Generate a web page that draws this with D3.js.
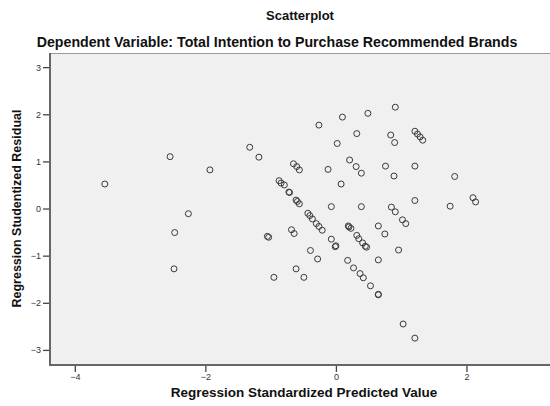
<!DOCTYPE html>
<html>
<head>
<meta charset="utf-8">
<script src="https://cdn.jsdelivr.net/npm/d3@7"></script>
<style>
  body { margin: 0; background: #fff; }
  text { font-family: Arial, "Liberation Sans", sans-serif; }
</style>
</head>
<body>
<div id="chart"></div>
<script>
const title = 'Scatterplot';
const subtitle = 'Dependent Variable: Total Intention to Purchase Recommended Brands';
const xLabel = 'Regression Standardized Predicted Value';
const yLabel = 'Regression Studentized Residual';

const xTicks = [-4, -2, 0, 2];
const yTicks = [-3, -2, -1, 0, 1, 2, 3];

// standardized predicted value
const predicted = [
  -3.54, -2.54, -1.93, -2.26, -2.47, -2.48, -1.32, -1.18, -0.26, 0.10,
  0.49, 0.32, 0.02, -0.65, -0.60, -0.56, -0.12, 0.21, 0.31, 0.39,
  0.08, -0.87, -0.84, -0.79, -0.72, -0.71, -0.61, -0.59, -0.56, -0.07,
  0.39, 0.91, 0.84, 0.90, 1.21, 1.25, 1.29, 1.33, 0.76, 0.89,
  1.21, 1.82, 1.21, 0.85, 0.91, 1.75, 2.10, 2.14, -0.43, -0.40,
  -0.36, -0.30, -0.26, -0.21, -0.68, -0.64, -1.05, -1.03, -0.07, 0.00,
  -0.01, -0.39, -0.28, 0.19, 0.20, 0.23, 0.32, 0.35, 0.41, 0.45,
  0.47, 0.18, 0.27, 0.37, 0.42, 0.53, 0.65, 0.65, -0.61, -0.49,
  -0.95, 1.02, 1.07, 0.65, 0.75, 0.96, 0.65, 1.03, 1.21
];

// studentized residual
const residual = [
  0.52, 1.10, 0.82, -0.11, -0.51, -1.28, 1.30, 1.09, 1.77, 1.94,
  2.02, 1.59, 1.38, 0.95, 0.89, 0.82, 0.83, 1.03, 0.89, 0.75,
  0.52, 0.59, 0.54, 0.50, 0.35, 0.34, 0.18, 0.15, 0.10, 0.04,
  0.04, 2.15, 1.56, 1.40, 1.64, 1.58, 1.52, 1.45, 0.90, 0.69,
  0.90, 0.68, 0.17, 0.03, -0.07, 0.05, 0.23, 0.14, -0.10, -0.15,
  -0.22, -0.32, -0.38, -0.46, -0.45, -0.53, -0.59, -0.61, -0.65, -0.79,
  -0.81, -0.89, -1.07, -0.37, -0.39, -0.42, -0.57, -0.64, -0.73, -0.80,
  -0.82, -1.10, -1.26, -1.38, -1.47, -1.64, -1.82, -1.83, -1.28, -1.46,
  -1.46, -0.24, -0.32, -0.37, -0.54, -0.88, -1.09, -2.45, -2.75
];

const width = 550;
const height = 406;
const margin = { top: 53, right: 0, bottom: 41, left: 50 };

const svg = d3.select('#chart')
  .append('svg')
  .attr('width', width)
  .attr('height', height);

const x = d3.scaleLinear()
  .domain([-4.38, 3.28])
  .range([margin.left, width - margin.right]);

const y = d3.scaleLinear()
  .domain([-3.32, 3.30])
  .range([height - margin.bottom, margin.top]);

// plot background
svg.append('rect')
  .attr('x', margin.left)
  .attr('y', margin.top)
  .attr('width', width - margin.left - margin.right)
  .attr('height', height - margin.top - margin.bottom)
  .attr('fill', '#f0f0f0');

svg.append('line')
  .attr('x1', margin.left).attr('x2', width)
  .attr('y1', margin.top + 0.5).attr('y2', margin.top + 0.5)
  .attr('stroke', '#9a9a9a');

// titles
svg.append('text')
  .attr('x', 300).attr('y', 20)
  .attr('text-anchor', 'middle')
  .attr('font-size', 13).attr('font-weight', 'bold')
  .attr('fill', '#111')
  .text(title);

svg.append('text')
  .attr('x', 277).attr('y', 47)
  .attr('text-anchor', 'middle')
  .attr('font-size', 14.2).attr('font-weight', 'bold')
  .attr('fill', '#111')
  .text(subtitle);

// axes
const xAxis = svg.append('g')
  .attr('transform', `translate(0,${height - margin.bottom})`)
  .call(d3.axisBottom(x).tickValues(xTicks).tickSize(7).tickPadding(2).tickFormat(d3.format('d')));

const yAxis = svg.append('g')
  .attr('transform', `translate(${margin.left},0)`)
  .call(d3.axisLeft(y).tickValues(yTicks).tickSize(7).tickPadding(2).tickFormat(d3.format('d')));

for (const g of [xAxis, yAxis]) {
  g.select('.domain').remove();
  g.selectAll('.tick line').attr('stroke', '#444').attr('stroke-width', 1.3);
  g.selectAll('.tick text')
    .attr('font-size', 9)
    .attr('fill', '#333')
    .style('font-family', 'Arial, "Liberation Sans", sans-serif');
}

svg.append('line')
  .attr('x1', margin.left).attr('x2', margin.left)
  .attr('y1', margin.top).attr('y2', height - margin.bottom + 1)
  .attr('stroke', '#666').attr('stroke-width', 2);

svg.append('line')
  .attr('x1', margin.left - 1).attr('x2', width)
  .attr('y1', height - margin.bottom).attr('y2', height - margin.bottom)
  .attr('stroke', '#666').attr('stroke-width', 2);

svg.append('text')
  .attr('x', 304).attr('y', 397)
  .attr('text-anchor', 'middle')
  .attr('font-size', 13.5).attr('font-weight', 'bold')
  .attr('fill', '#111')
  .text(xLabel);

svg.append('text')
  .attr('transform', `translate(21,${y(0)}) rotate(-90)`)
  .attr('text-anchor', 'middle')
  .attr('font-size', 12.5).attr('font-weight', 'bold')
  .attr('fill', '#111')
  .text(yLabel);

// points
svg.append('g')
  .selectAll('circle')
  .data(predicted.map((d, i) => ({ px: d, res: residual[i] })))
  .enter()
  .append('circle')
  .attr('cx', (d) => x(d.px))
  .attr('cy', (d) => y(d.res))
  .attr('r', 3)
  .attr('fill', 'none')
  .attr('stroke', '#3a3a3a')
  .attr('stroke-width', 1);
</script>
</body>
</html>
